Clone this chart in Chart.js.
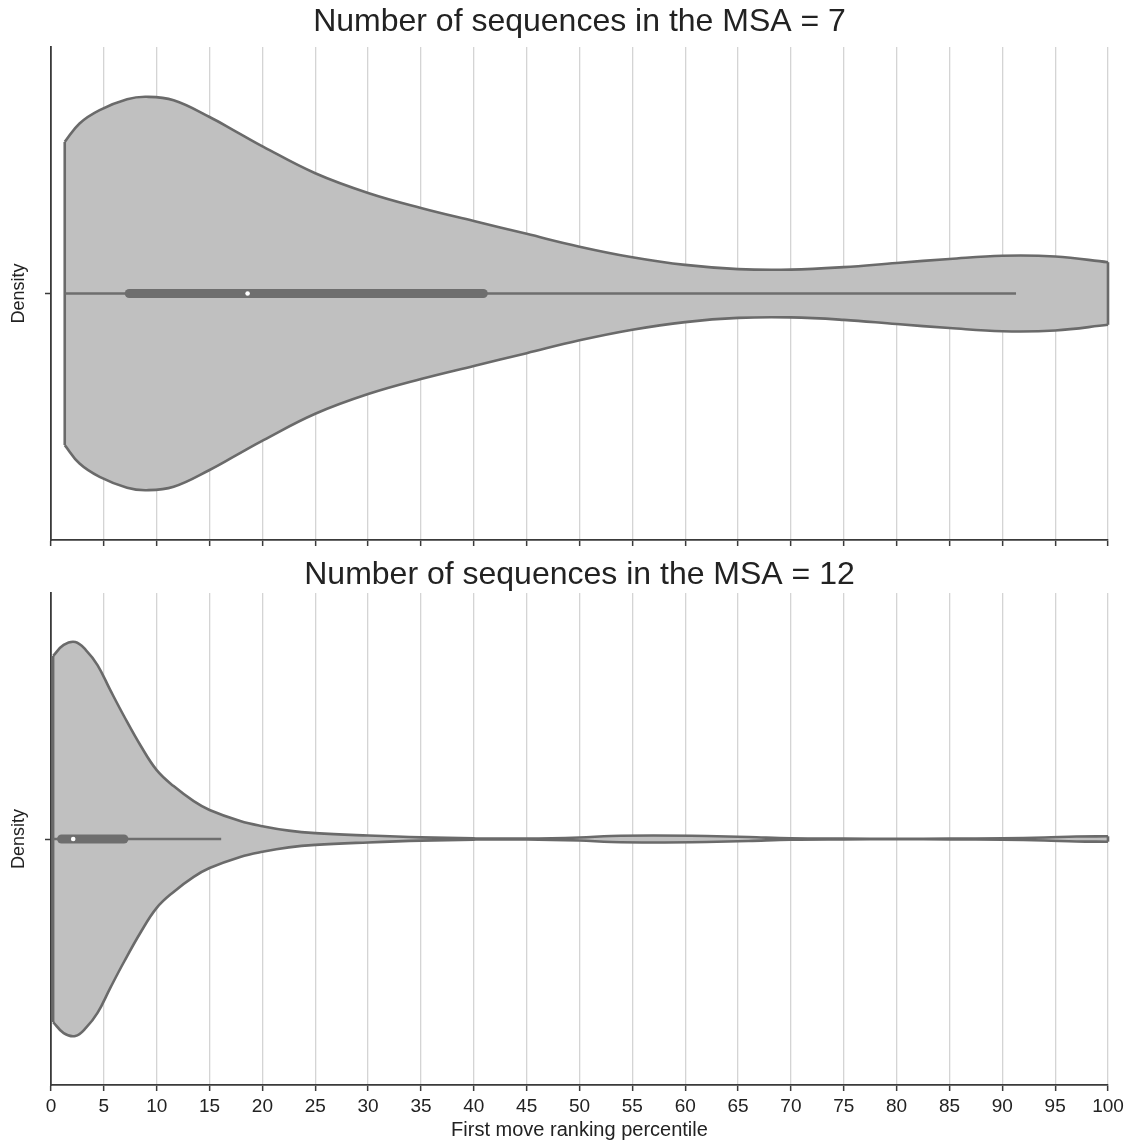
<!DOCTYPE html>
<html>
<head>
<meta charset="utf-8">
<script src="https://cdn.jsdelivr.net/npm/chart.js@4.4.0/dist/chart.umd.min.js"></script>
<style>
html, body { margin: 0; padding: 0; background: #fff; }
#wrap { position: relative; width: 1129px; height: 1144px; }
canvas { position: absolute; left: 0; }
#top { top: 0; }
#bottom { top: 550px; }
</style>
</head>
<body>
<div id="wrap">
	<canvas id="top" width="1129" height="560"></canvas>
	<canvas id="bottom" width="1129" height="594"></canvas>
</div>
<script>
// x axis ticks (percentile)
var xTicks = [0, 5, 10, 15, 20, 25, 30, 35, 40, 45, 50, 55, 60, 65, 70, 75, 80, 85, 90, 95, 100];
var xLabel = 'First move ranking percentile';
var yLabel = 'Density';

// MSA = 7 : violin half width (share of the panel half height)
var topTitle = 'Number of sequences in the MSA = 7';
var topX = [1.3, 2.7, 4.6, 7.2, 9.05, 11.6, 15, 17.5, 20.1, 25, 30, 35, 40, 45, 50, 55, 60, 65, 70, 75, 80, 85, 90, 95, 100];
var topWidth = [0.615, 0.69, 0.744, 0.788, 0.798, 0.784, 0.716, 0.657, 0.595, 0.488, 0.408, 0.347, 0.294, 0.242, 0.19, 0.147, 0.116, 0.099, 0.097, 0.107, 0.124, 0.140, 0.153, 0.150, 0.127];
// whisker low, q1, median, q3, whisker high
var topBox = [1.3, 7.4, 18.6, 40.9, 91.3];

// MSA = 12
var bottomTitle = 'Number of sequences in the MSA = 12';
var bottomX = [0.2, 1.2, 2.3, 3.3, 4.4, 5.6, 6.9, 8.5, 10, 11.6, 13.5, 15, 17.9, 20, 22.5, 25, 30, 35, 40, 45, 50, 53, 57, 62, 66, 70, 75, 80, 85, 90, 94, 97, 100];
var bottomWidth = [0.744, 0.789, 0.801, 0.768, 0.707, 0.606, 0.5, 0.378, 0.28, 0.215, 0.154, 0.118, 0.073, 0.052, 0.034, 0.024, 0.014, 0.0065, 0.0024, 0.0016, 0.006, 0.012, 0.014, 0.012, 0.008, 0.003, 0.0016, 0.0012, 0.0016, 0.003, 0.006, 0.010, 0.011];
var bottomBox = [0.2, 1.0, 2.1, 6.9, 16.1];

var fillCol = '#c0c0c0';
var lineCol = '#6a6a6a';
var boxCol = '#6e6e6e';
var axisCol = '#3a3a3a';
var textCol = '#222222';

Chart.defaults.font.family = '"Liberation Sans", Arial, sans-serif';

function violinSets(xs, ws, box){
	var n = xs.length - 1;
	var upper = [], lower = [];
	for(var i = 0; i < xs.length; i++){
		upper.push({x: xs[i], y: ws[i]});
		lower.push({x: xs[i], y: -ws[i]});
	}
	var base = {pointRadius: 0, borderColor: lineCol, borderWidth: 2.6, clip: false, borderJoinStyle: 'round'};
	return [
		Object.assign({}, base, {data: upper, fill: '+1', backgroundColor: fillCol, tension: 0.4, order: 6}),
		Object.assign({}, base, {data: lower, fill: false, tension: 0.4, order: 5}),
		Object.assign({}, base, {data: [{x: xs[0], y: -ws[0]}, {x: xs[0], y: ws[0]}], fill: false, order: 4}),
		Object.assign({}, base, {data: [{x: xs[n], y: -ws[n]}, {x: xs[n], y: ws[n]}], fill: false, order: 4}),
		// whiskers
		{data: [{x: box[0], y: 0}, {x: box[4], y: 0}], borderColor: boxCol, borderWidth: 2.5, pointRadius: 0, fill: false, clip: false, order: 3},
		// box
		{data: [{x: box[1], y: 0}, {x: box[3], y: 0}], borderColor: boxCol, borderWidth: 9, borderCapStyle: 'round', pointRadius: 0, fill: false, clip: false, order: 2},
		// median
		{data: [{x: box[2], y: 0}], showLine: false, pointRadius: 2.3, pointBackgroundColor: '#ffffff', pointBorderWidth: 0, order: 1}
	];
}

function drawPanel(id, title, xs, ws, box, bottom){
	var ctx = document.getElementById(id).getContext('2d');
	return new Chart(ctx, {
		type: 'line',
		data: {datasets: violinSets(xs, ws, box)},
		options: {
			responsive: false,
			animation: false,
			devicePixelRatio: 1,
			layout: {padding: {left: 0, right: 21, top: 0, bottom: 0}},
			plugins: {
				legend: {display: false},
				tooltip: {enabled: false},
				title: {
					display: true,
					text: title,
					fullSize: false,
					color: textCol,
					font: {size: 32, weight: 'normal', lineHeight: 1.1},
					padding: bottom ? {top: 7.4, bottom: 0.4} : {top: 4.4, bottom: 7.4}
				}
			},
			scales: {
				x: {
					type: 'linear',
					min: 0,
					max: 100,
					afterBuildTicks: function(s){ s.ticks = xTicks.map(function(v){ return {value: v}; }); },
					afterFit: function(s){ s.height = bottom ? 59 : 20; },
					ticks: {display: bottom, color: textCol, font: {size: 19}, padding: 4, maxRotation: 0, autoSkip: false},
					grid: {
						color: function(c){ return (c.tick && c.tick.value === 0) ? 'rgba(0,0,0,0)' : '#d4d4d4'; },
						lineWidth: 1.3,
						tickColor: axisCol,
						tickWidth: 1.5,
						tickLength: 6
					},
					border: {display: true, color: axisCol, width: 1.8},
					title: {display: bottom, text: xLabel, color: textCol, font: {size: 20, lineHeight: 1.2}, padding: {top: 0, bottom: 2}}
				},
				y: {
					type: 'linear',
					min: -1,
					max: 1,
					afterBuildTicks: function(s){ s.ticks = [{value: 0}]; },
					afterFit: function(s){ s.width = 51; },
					ticks: {display: false},
					grid: {drawOnChartArea: false, tickColor: axisCol, tickWidth: 1.5, tickLength: 6},
					border: {display: true, color: axisCol, width: 1.8},
					title: {display: true, text: yLabel, color: textCol, font: {size: 18, lineHeight: 1.2}, padding: {top: 8, bottom: 0}}
				}
			}
		}
	});
}

drawPanel('top', topTitle, topX, topWidth, topBox, false);
drawPanel('bottom', bottomTitle, bottomX, bottomWidth, bottomBox, true);
</script>
</body>
</html>
